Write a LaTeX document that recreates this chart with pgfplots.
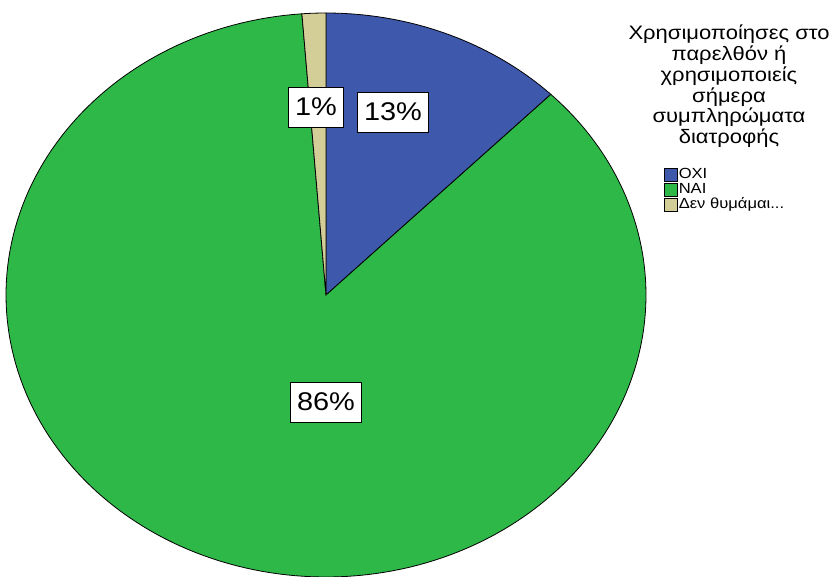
\documentclass[border=0pt]{standalone}
\usepackage{graphicx}
\usepackage{pgfplots}
\pgfplotsset{compat=1.18}
\usepackage{pgfplotstable}
\usepackage{fontspec}
\setmainfont{Liberation Sans}
\definecolor{cOXI}{RGB}{62,88,172}
\definecolor{cNAI}{RGB}{46,184,72}
\definecolor{cDEN}{RGB}{211,206,151}

% percentages of the three answers (clockwise from 12 o'clock)
\pgfplotstableread{
answer value
OXI 12.4
NAI 86.4
DEN 1.2
}\piedata

\newcommand{\sx}[1]{\scalebox{1.13}[1]{#1}}

\begin{document}
\begin{tikzpicture}
\pgfplotstablegetelem{0}{value}\of\piedata \pgfmathsetmacro\aA{90-3.6*\pgfplotsretval}
\pgfplotstablegetelem{1}{value}\of\piedata \pgfmathsetmacro\aB{\aA-3.6*\pgfplotsretval}
\pgfplotstablegetelem{2}{value}\of\piedata \pgfmathsetmacro\aC{\aB-3.6*\pgfplotsretval}
\begin{axis}[
  width=628.5pt, height=432pt, scale only axis,
  xmin=0, xmax=838, ymin=0, ymax=576,
  hide axis, clip=true,
  legend image code/.code={\draw[#1,draw=black,line width=0.5pt] (0pt,-4.9pt) rectangle (9.75pt,4.9pt);},
  legend style={draw=none, fill=none, inner sep=0pt, at={(0.7924,0.7092)}, anchor=north west,
    font=\fontsize{11}{11}\selectfont, row sep=0pt,
    nodes={inner sep=0.6pt, text height=7.7pt, text depth=2.2pt}},
  legend cell align=left,
]
\coordinate (ll) at (rel axis cs:0,0);
\coordinate (ur) at (rel axis cs:1,1);
\addplot[fill=cOXI, draw=black, line width=0.6pt, domain=\aA:90, samples=60, variable=\t]
  ({326+320*cos(\t)},{281+282*sin(\t)}) -- (axis cs:326,281) -- cycle;
\addlegendentry{\sx{OXI}}
\addplot[fill=cNAI, draw=black, line width=0.6pt, domain=\aB:\aA, samples=200, variable=\t]
  ({326+320*cos(\t)},{281+282*sin(\t)}) -- (axis cs:326,281) -- cycle;
\addlegendentry{\sx{NAI}}
\addplot[fill=cDEN, draw=black, line width=0.6pt, domain=\aC:\aB, samples=10, variable=\t]
  ({326+320*cos(\t)},{281+282*sin(\t)}) -- (axis cs:326,281) -- cycle;
\addlegendentry{\sx{Δεν θυμάμαι...}}

\tikzset{pct/.style={draw=black, fill=white, line width=0.6pt, font=\fontsize{19.2}{20}\selectfont,
  inner xsep=5pt, minimum height=30pt}}
\node[pct] at (axis cs:393,464) {\sx{13\%}};
\node[pct] at (axis cs:316,469) {\sx{1\%}};
\node[pct] at (axis cs:326,174) {\sx{86\%}};

\node[anchor=base, font=\fontsize{14.6}{15.2}\selectfont] at (axis cs:729,536)
  {\scalebox{1.13}[1]{\begin{tabular}[t]{@{}c@{}}Χρησιμοποίησες στο\\παρελθόν ή\\χρησιμοποιείς\\σήμερα\\συμπληρώματα\\διατροφής\end{tabular}}};
\end{axis}
\pgfresetboundingbox
\path[use as bounding box] (ll) rectangle (ur);
\end{tikzpicture}
\end{document}
